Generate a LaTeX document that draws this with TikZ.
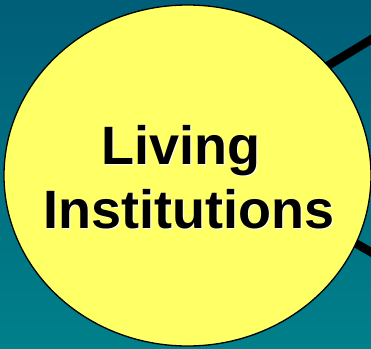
\documentclass[tikz,border=0pt]{standalone}
\usepackage{fontspec}
\setmainfont{Liberation Sans}
\usetikzlibrary{shapes.geometric,backgrounds}

\definecolor{deepteal}{RGB}{0,94,120}
\definecolor{lightteal}{RGB}{0,128,138}
\definecolor{paleyellow}{RGB}{255,255,102}

% black text with a white drop shadow
\newcommand{\shadowtext}[1]{\leavevmode\rlap{\kern1.5pt\raisebox{-1.5pt}{\color{white}#1}}#1}

\begin{document}
\begin{tikzpicture}[
  x=1pt, y=-1pt,
  hub/.style={draw, ellipse, fill=paleyellow, line width=1.3pt, minimum width=367pt, minimum height=341pt, inner sep=0pt},
  title/.style={align=center, inner sep=0pt, font=\bfseries\fontsize{54}{64}\selectfont},
  link/.style={line width=8.5pt, shorten <=-12pt}
]
\useasboundingbox (0,0) rectangle (371,348);
\node[hub] (inst) at (187.5,175.5) {};
\node[title] (name) at (188.5,177.5) {\shadowtext{Living}\kern0.28em\\\shadowtext{Institutions}};
\coordinate (upper) at (390,28);
\coordinate (lower) at (390,263);
% background and the spokes go behind the circle
\begin{scope}[on background layer]
  \shade[top color=deepteal, bottom color=lightteal] (0,0) rectangle (371,348);
  \draw[link] (inst.38) -- (upper);
  \draw[link] (inst.-22) -- (lower);
\end{scope}
\end{tikzpicture}
\end{document}
